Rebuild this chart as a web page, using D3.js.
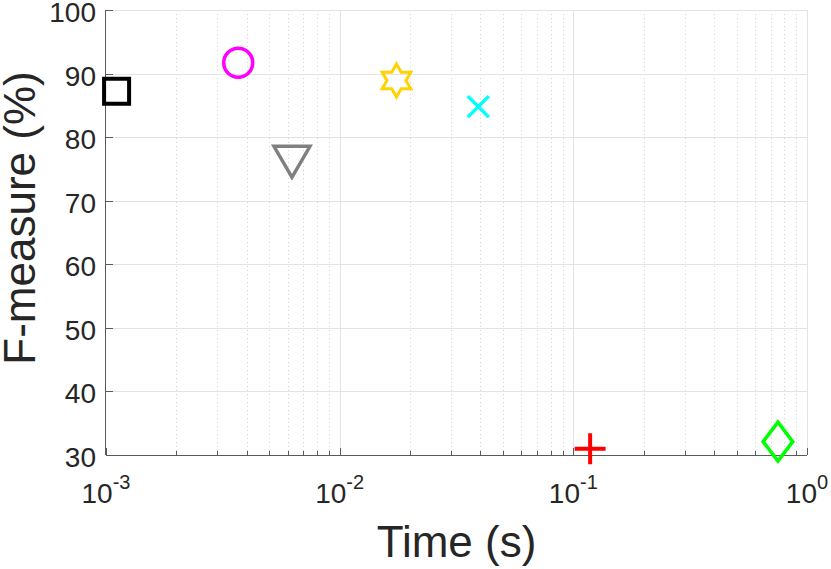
<!DOCTYPE html>
<html>
<head>
<meta charset="utf-8">
<script src="https://cdn.jsdelivr.net/npm/d3@7"></script>
<style>
  body { margin: 0; background: #fff; }
  svg text { font-family: "Liberation Sans", Arial, Helvetica, sans-serif; fill: #262626; }
</style>
</head>
<body>
<div id="chart"></div>
<script>
// one point per method
const methods = ["square", "circle", "triangle", "hexagram", "cross", "plus", "diamond"];
const timeSec = [0.00111, 0.00368, 0.00625, 0.0175, 0.0392, 0.118, 0.751];
const fMeasure = [87.2, 91.7, 76.2, 88.9, 84.8, 31.0, 32.1];
const colors = ["#000000", "#ff00ff", "#808080", "#ffd200", "#00ffff", "#ff0000", "#00ff00"];

const yTicks = [30, 40, 50, 60, 70, 80, 90, 100];
const xDecades = [-3, -2, -1, 0];

const width = 831, height = 569;
const margin = {top: 10, right: 24, bottom: 114, left: 106};

const svg = d3.select("#chart").append("svg")
  .attr("width", width)
  .attr("height", height);

const x = d3.scaleLog().domain([1e-3, 1]).range([margin.left, width - margin.right]);
const y = d3.scaleLinear().domain([30, 100]).range([height - margin.bottom, margin.top]);

const x0 = x.range()[0], x1 = x.range()[1];
const y0 = y.range()[0], y1 = y.range()[1];

// minor log ticks 2..9 in each decade
let minorTicks = [];
xDecades.slice(0, -1).forEach(function(e) {
  for (let k = 2; k <= 9; k++) minorTicks.push(k * Math.pow(10, e));
});
const majorTicks = xDecades.map(function(e) { return Math.pow(10, e); });

const grid = svg.append("g");
grid.selectAll(".minor").data(minorTicks).enter().append("line")
  .attr("x1", d => Math.round(x(d)) + 0.5).attr("x2", d => Math.round(x(d)) + 0.5)
  .attr("y1", y1).attr("y2", y0)
  .attr("stroke", "#d4d4d4").attr("stroke-dasharray", "1,3");
grid.selectAll(".majx").data(majorTicks.slice(1)).enter().append("line")
  .attr("x1", d => Math.round(x(d)) + 0.5).attr("x2", d => Math.round(x(d)) + 0.5)
  .attr("y1", y1).attr("y2", y0)
  .attr("stroke", "#e3e3e3");
grid.selectAll(".majy").data(yTicks.slice(1)).enter().append("line")
  .attr("x1", x0).attr("x2", x1)
  .attr("y1", d => Math.round(y(d)) + 0.5).attr("y2", d => Math.round(y(d)) + 0.5)
  .attr("stroke", "#e3e3e3");

// axes lines and inward ticks
const axisColor = "#5a5a5a";
const ax = svg.append("g").attr("stroke", axisColor).attr("fill", "none");
ax.append("line").attr("x1", x0 - 0.5).attr("x2", x0 - 0.5).attr("y1", y1).attr("y2", y0);
ax.append("line").attr("x1", x0).attr("x2", x1).attr("y1", y0 + 0.5).attr("y2", y0 + 0.5);
ax.selectAll(".yt").data(yTicks).enter().append("line")
  .attr("x1", x0).attr("x2", x0 + 7)
  .attr("y1", d => Math.round(y(d)) + 0.5).attr("y2", d => Math.round(y(d)) + 0.5);
ax.selectAll(".xt").data(majorTicks).enter().append("line")
  .attr("x1", d => Math.round(x(d)) + 0.5).attr("x2", d => Math.round(x(d)) + 0.5)
  .attr("y1", y0).attr("y2", y0 - 7);
ax.selectAll(".xm").data(minorTicks).enter().append("line")
  .attr("x1", d => Math.round(x(d)) + 0.5).attr("x2", d => Math.round(x(d)) + 0.5)
  .attr("y1", y0).attr("y2", y0 - 4);

// tick labels
svg.selectAll(".ylab").data(yTicks).enter().append("text")
  .attr("x", x0 - 10)
  .attr("y", d => y(d) + 12)
  .attr("text-anchor", "end")
  .style("font-size", "28px")
  .text(d => d);

const xl = svg.selectAll(".xlab").data(xDecades).enter().append("text")
  .attr("x", d => x(Math.pow(10, d)))
  .attr("y", y0 + 48)
  .attr("text-anchor", "middle")
  .style("font-size", "28px");
xl.append("tspan").text("10");
xl.append("tspan").attr("dy", -14).style("font-size", "20px").text(d => d === 0 ? "0" : "-" + Math.abs(d));

// axis titles
svg.append("text")
  .attr("x", (x0 + x1) / 2)
  .attr("y", 557)
  .attr("text-anchor", "middle")
  .style("font-size", "44px")
  .text("Time (s)");
svg.append("text")
  .attr("transform", "translate(35,218) rotate(-90)")
  .attr("text-anchor", "middle")
  .style("font-size", "44px")
  .text("F-measure (%)");

// marker outlines built with d3.path, centred on 0,0
function markerPath(kind) {
  const p = d3.path();
  if (kind === "square") {
    p.rect(-12.5, -12.5, 25, 25);
  } else if (kind === "circle") {
    p.arc(0, 0, 14.5, 0, 2 * Math.PI);
  } else if (kind === "triangle") {
    p.moveTo(-18, -15); p.lineTo(18, -15); p.lineTo(0, 16); p.closePath();
  } else if (kind === "hexagram") {
    const R = 16.5, r = R / Math.sqrt(3);
    for (let i = 0; i < 12; i++) {
      const a = -Math.PI / 2 + i * Math.PI / 6;
      const rr = i % 2 === 0 ? R : r;
      if (i === 0) p.moveTo(rr * Math.cos(a), rr * Math.sin(a));
      else p.lineTo(rr * Math.cos(a), rr * Math.sin(a));
    }
    p.closePath();
  } else if (kind === "cross") {
    p.moveTo(-10.5, -10.5); p.lineTo(10.5, 10.5);
    p.moveTo(-10.5, 10.5); p.lineTo(10.5, -10.5);
  } else if (kind === "plus") {
    p.moveTo(-15.5, 0); p.lineTo(15.5, 0);
    p.moveTo(0, -15.5); p.lineTo(0, 15.5);
  } else if (kind === "diamond") {
    p.moveTo(0, -19.5); p.lineTo(14.8, 0); p.lineTo(0, 19.5); p.lineTo(-14.8, 0); p.closePath();
  }
  return p.toString();
}
const strokeW = {square: 4, circle: 3.5, triangle: 3.5, hexagram: 3, cross: 3.5, plus: 4, diamond: 3.5};

svg.append("g").selectAll("path")
  .data(methods)
  .enter().append("path")
  .attr("transform", (d, i) => "translate(" + x(timeSec[i]) + "," + y(fMeasure[i]) + ")")
  .attr("d", d => markerPath(d))
  .attr("fill", "none")
  .attr("stroke", (d, i) => colors[i])
  .attr("stroke-width", d => strokeW[d])
  .attr("stroke-linejoin", "miter");
</script>
</body>
</html>
